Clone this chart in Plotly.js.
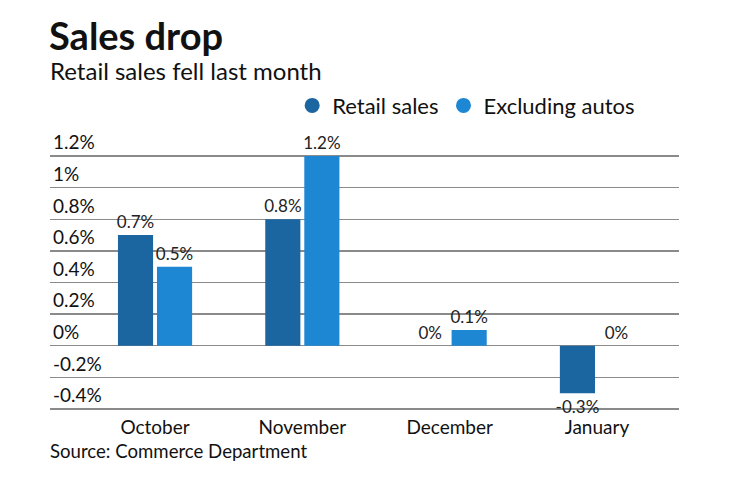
<!DOCTYPE html>
<html>
<head>
<meta charset="utf-8">
<script src="https://cdn.plot.ly/plotly-3.0.1.min.js"></script>
<style>html,body{margin:0;padding:0;background:#fff;}#chart{width:740px;height:482px;}</style>
</head>
<body>
<div id="chart"></div>
<script>
var months = ['October', 'November', 'December', 'January'];
var retailSales = [0.7, 0.8, 0, -0.3];
var excludingAutos = [0.5, 1.2, 0.1, 0];
var yTickValues = [-0.4, -0.2, 0, 0.2, 0.4, 0.6, 0.8, 1, 1.2];
var yTickLabels = ['-0.4%', '-0.2%', '0%', '0.2%', '0.4%', '0.6%', '0.8%', '1%', '1.2%'];
var seriesNames = ['Retail sales', 'Excluding autos'];

var darkBlue = '#1b65a0';
var lightBlue = '#1e87d3';
var fontFam = 'Lato, "Noto Sans", sans-serif';

function pct(v) { return v + '%'; }

var traces = [
  {
    type: 'bar', x: months, y: retailSales, name: seriesNames[0],
    marker: {color: darkBlue}, showlegend: false,
    text: retailSales.map(pct), textposition: 'outside', cliponaxis: false,
    constraintext: 'none', textfont: {family: fontFam, size: 17, color: '#222'},
    hoverinfo: 'x+y'
  },
  {
    type: 'bar', x: months, y: excludingAutos, name: seriesNames[1],
    marker: {color: lightBlue}, showlegend: false,
    text: excludingAutos.map(pct), textposition: 'outside', cliponaxis: false,
    constraintext: 'none', textfont: {family: fontFam, size: 17, color: '#222'},
    hoverinfo: 'x+y'
  },
  {type: 'scatter', mode: 'markers', x: [null], y: [null], name: seriesNames[0],
   marker: {color: darkBlue, size: 15, symbol: 'circle'}},
  {type: 'scatter', mode: 'markers', x: [null], y: [null], name: seriesNames[1],
   marker: {color: lightBlue, size: 15, symbol: 'circle'}}
];

var layout = {
  width: 740, height: 482,
  margin: {l: 50, r: 61, t: 153.3, b: 69.7},
  paper_bgcolor: '#fff', plot_bgcolor: '#fff',
  font: {family: fontFam, color: '#111'},
  barmode: 'group', bargap: 0.47, bargroupgap: 0.1,
  title: {
    text: '<b>Sales drop</b>', font: {family: fontFam, size: 38, color: '#111'},
    x: 49 / 740, xanchor: 'left', xref: 'container',
    y: 1 - 37 / 482, yanchor: 'middle', yref: 'container'
  },
  xaxis: {
    type: 'category', range: [-0.713, 3.557], showgrid: false, zeroline: false,
    showline: false, ticks: '', ticklabelstandoff: 2,
    tickfont: {family: fontFam, size: 19, color: '#111'},
    fixedrange: true
  },
  yaxis: {
    range: [-0.419, 1.219], tickvals: yTickValues, ticktext: yTickLabels,
    ticklabelposition: 'inside top', ticklabeloverflow: 'allow',
    showgrid: true, gridcolor: '#8a8a8a', gridwidth: 1.3,
    zeroline: true, zerolinecolor: '#8a8a8a', zerolinewidth: 1.3,
    tickfont: {family: fontFam, size: 19, color: '#111'}, fixedrange: true
  },
  legend: {
    orientation: 'h', x: 0.385, xanchor: 'left', y: 1.183, yanchor: 'middle',
    font: {family: fontFam, size: 22, color: '#111'}, itemwidth: 30
  },
  annotations: [
    {text: 'Retail sales fell last month', xref: 'paper', yref: 'paper', x: 0, xanchor: 'left',
     xshift: -2, y: 1 + (153.3 - 71) / 258.8, yanchor: 'middle', showarrow: false,
     font: {family: fontFam, size: 24, color: '#111'}},
    {text: 'Source: Commerce Department', xref: 'paper', yref: 'paper', x: 0, xanchor: 'left',
     xshift: -2, y: -(451 - 412.3) / 258.8, yanchor: 'middle', showarrow: false,
     font: {family: fontFam, size: 18.6, color: '#111'}}
  ]
};

Plotly.newPlot('chart', traces, layout, {displayModeBar: false, staticPlot: true});
</script>
</body>
</html>
